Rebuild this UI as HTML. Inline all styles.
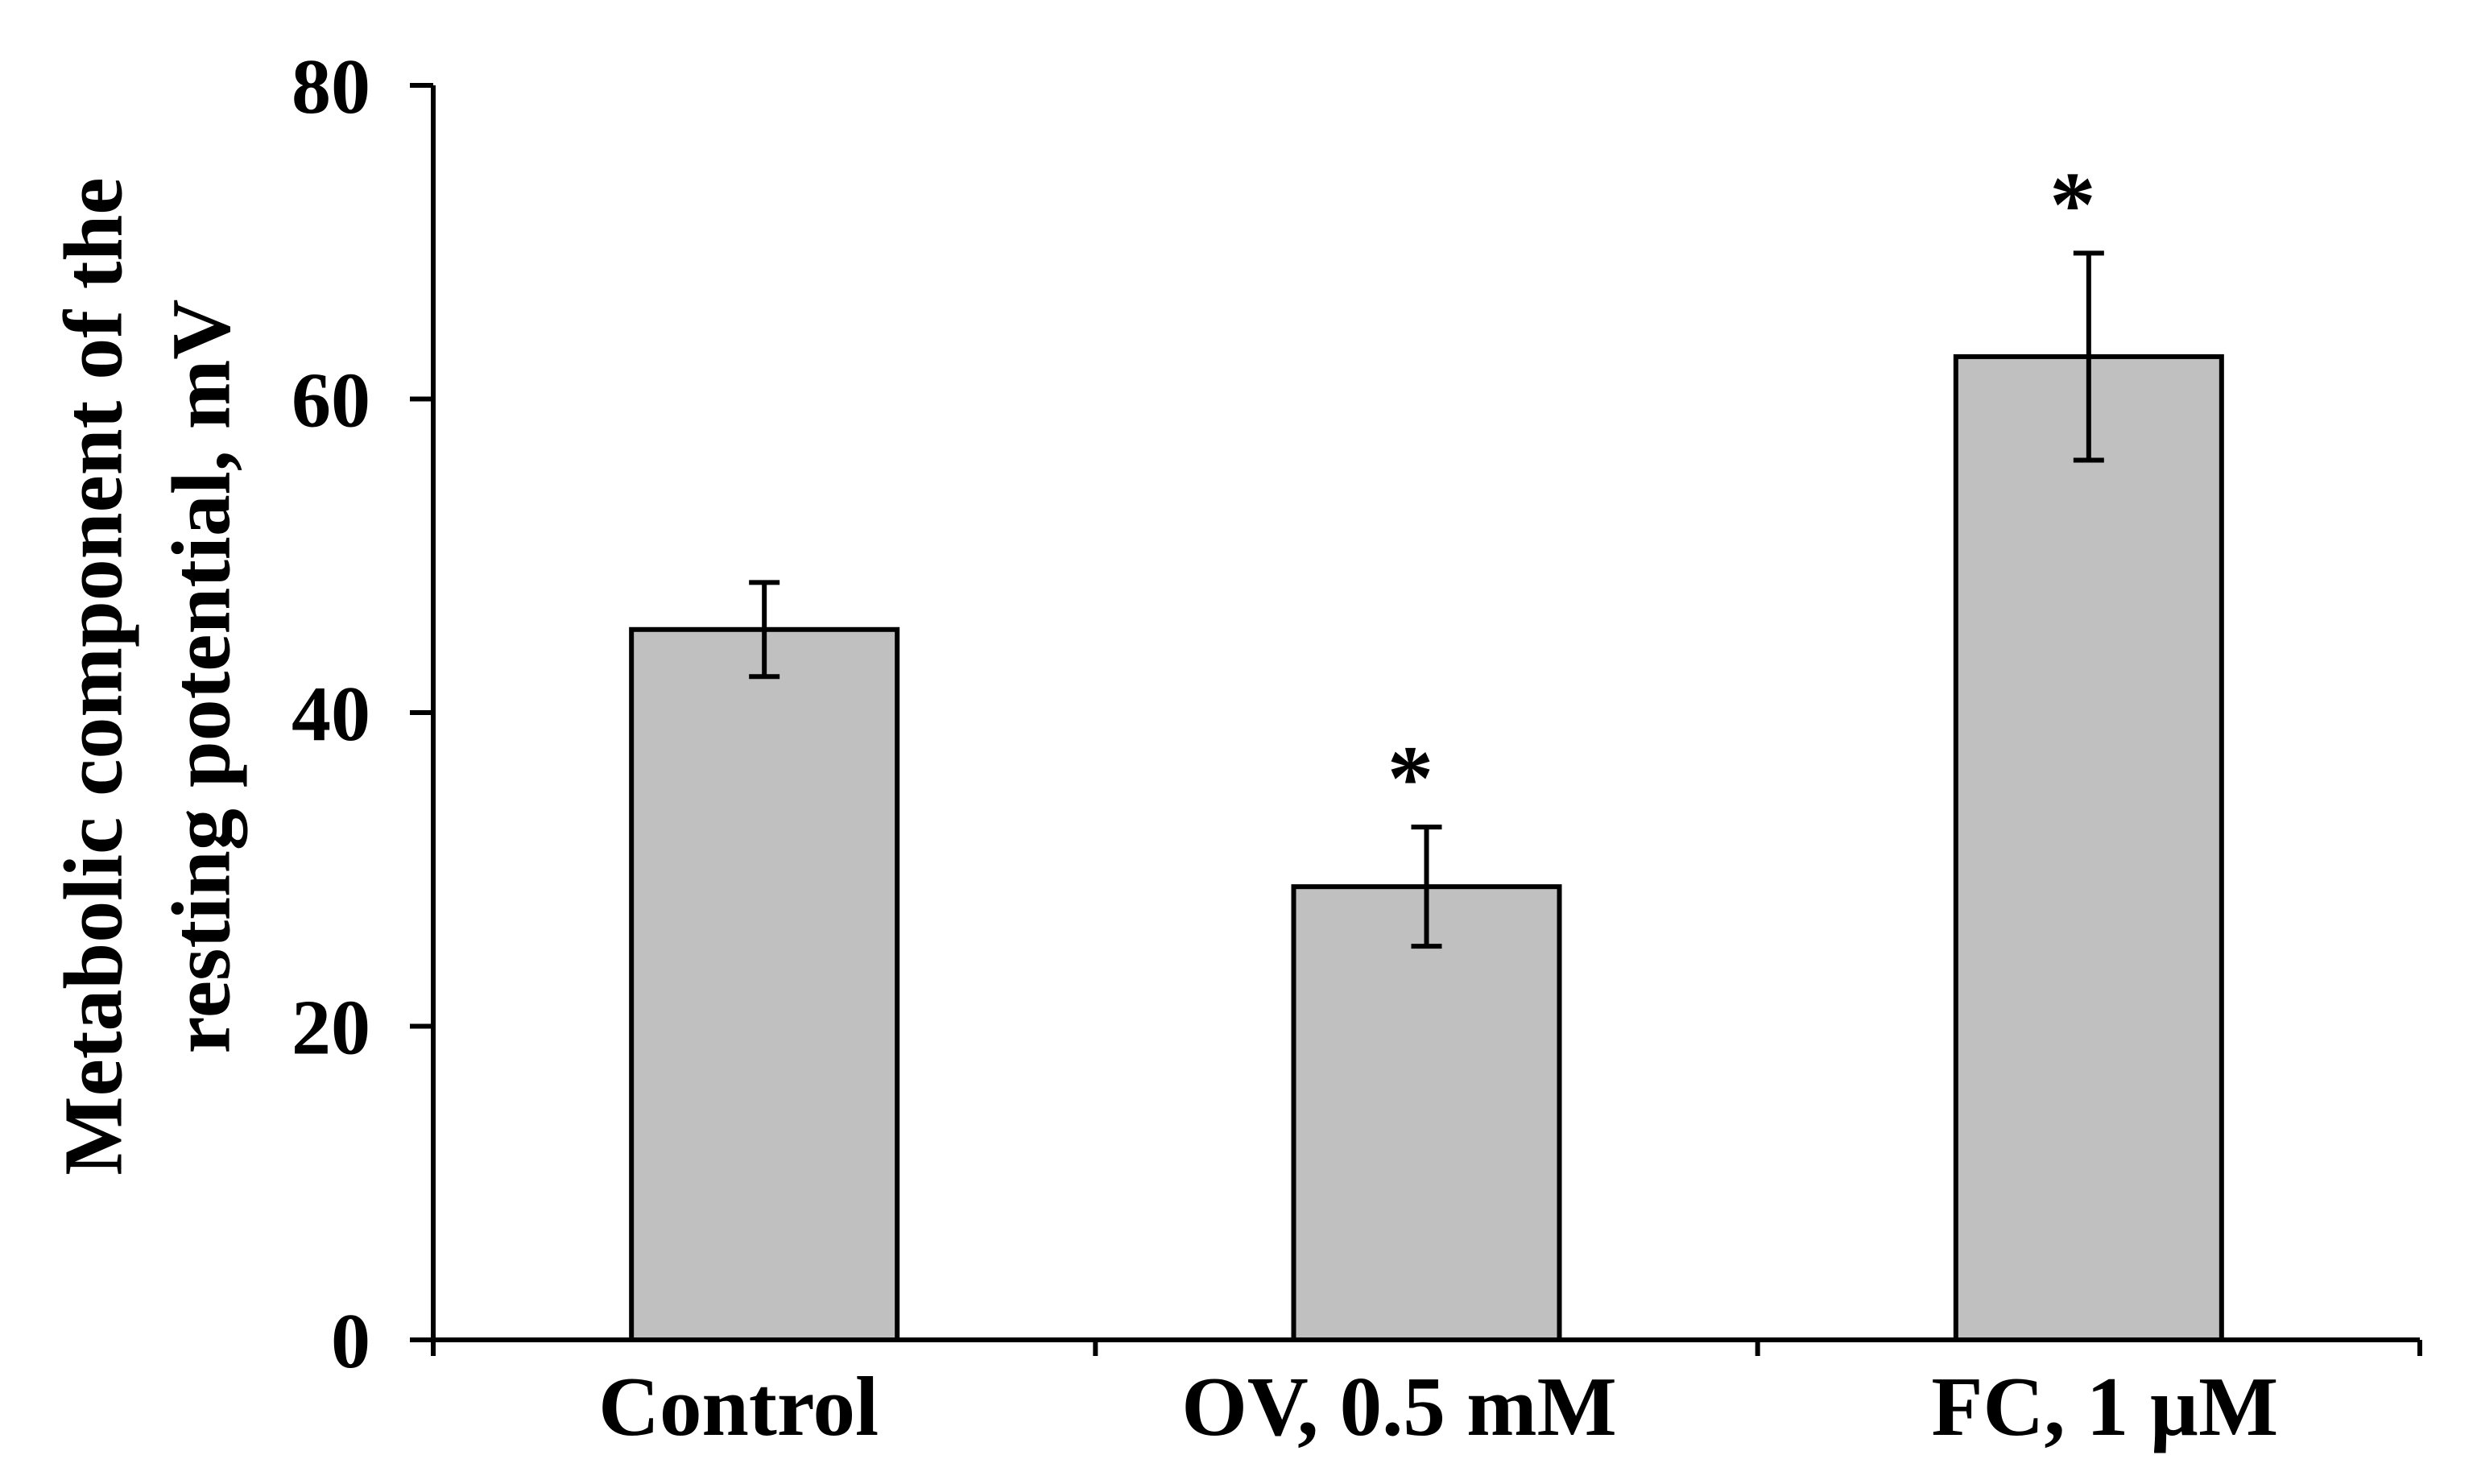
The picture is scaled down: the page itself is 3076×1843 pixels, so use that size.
<!DOCTYPE html>
<html><head><meta charset="utf-8"><style>
html,body{margin:0;padding:0;background:#fff;}
svg{display:block;}
text{font-family:"Liberation Serif",serif;font-weight:bold;fill:#000;}
</style></head><body>
<svg id="chart" width="3076" height="1843" viewBox="0 0 3076 1843" xmlns="http://www.w3.org/2000/svg">
<g id="ytitle">
<text transform="translate(116,840) rotate(-90)" text-anchor="middle" dominant-baseline="central" font-size="104">Metabolic component of the</text>
<text transform="translate(250,840) rotate(-90)" text-anchor="middle" dominant-baseline="central" font-size="104">resting potential, mV</text>
</g>
<g id="marks"></g>
</svg>
<script>
const categories = ["Control", "OV, 0.5 mM", "FC, 1 µM"];
const values = [45.3, 28.9, 62.7];
const errors = [3.0, 3.8, 6.6];
const significant = [false, true, true];
const yTicks = [0, 20, 40, 60, 80];

const labelShift = [-32, -34, 20];
const X0 = 538, X1 = 3005, Y0 = 1664, Y1 = 106, YMAX = 80;
const catW = (X1 - X0) / categories.length;
const barW = 330;
function y(v){ return Y0 - (v / YMAX) * (Y0 - Y1); }
function xc(i){ return X0 + catW * (i + 0.5); }
const NS = "http://www.w3.org/2000/svg";
const g = document.getElementById("marks");
function mk(tag, attrs){ const e = document.createElementNS(NS, tag); for (const k in attrs) e.setAttribute(k, attrs[k]); g.appendChild(e); return e; }

categories.forEach((c, i) => {
  const cx = xc(i);
  const b = mk("rect", {x: cx - barW/2, y: y(values[i]), width: barW, height: Y0 - y(values[i]), fill: "#c0c0c0", stroke: "#000", "stroke-width": 6});
  
  
  const e = mk("path", {d: `M${cx} ${y(values[i]+errors[i])}V${y(values[i]-errors[i])}M${cx-19} ${y(values[i]+errors[i])}h38M${cx-19} ${y(values[i]-errors[i])}h38`, stroke: "#000", "stroke-width": 6, fill: "none"});
  
  
  const t = mk("text", {x: cx + labelShift[i], y: 1782, "text-anchor": "middle", "font-size": 105});
  t.textContent = c;
  
  
  if (significant[i]) {
    const s = mk("text", {x: cx - 20, y: y(values[i]+errors[i]) - 22, "text-anchor": "middle", "font-size": 115});
    s.textContent = "*";
    
    
  }
});
const ya = mk("path", {d: `M${X0} ${Y1}V${Y0+20}`, stroke: "#000", "stroke-width": 6});


const xa = mk("path", {d: `M${X0-29} ${Y0}H${X1}`, stroke: "#000", "stroke-width": 6});


for (let i = 1; i <= categories.length; i++) {
  const tk = mk("path", {d: `M${X0 + catW*i} ${Y0}v20`, stroke: "#000", "stroke-width": 6});
  
  
}
yTicks.forEach(v => {
  const tk = mk("path", {d: `M${X0-29} ${y(v)}H${X0}`, stroke: "#000", "stroke-width": 6});
  
  
  const t = mk("text", {x: 460, y: y(v) + 34, "text-anchor": "end", "font-size": 98});
  t.textContent = v;
  
  
});
</script>
</body></html>
